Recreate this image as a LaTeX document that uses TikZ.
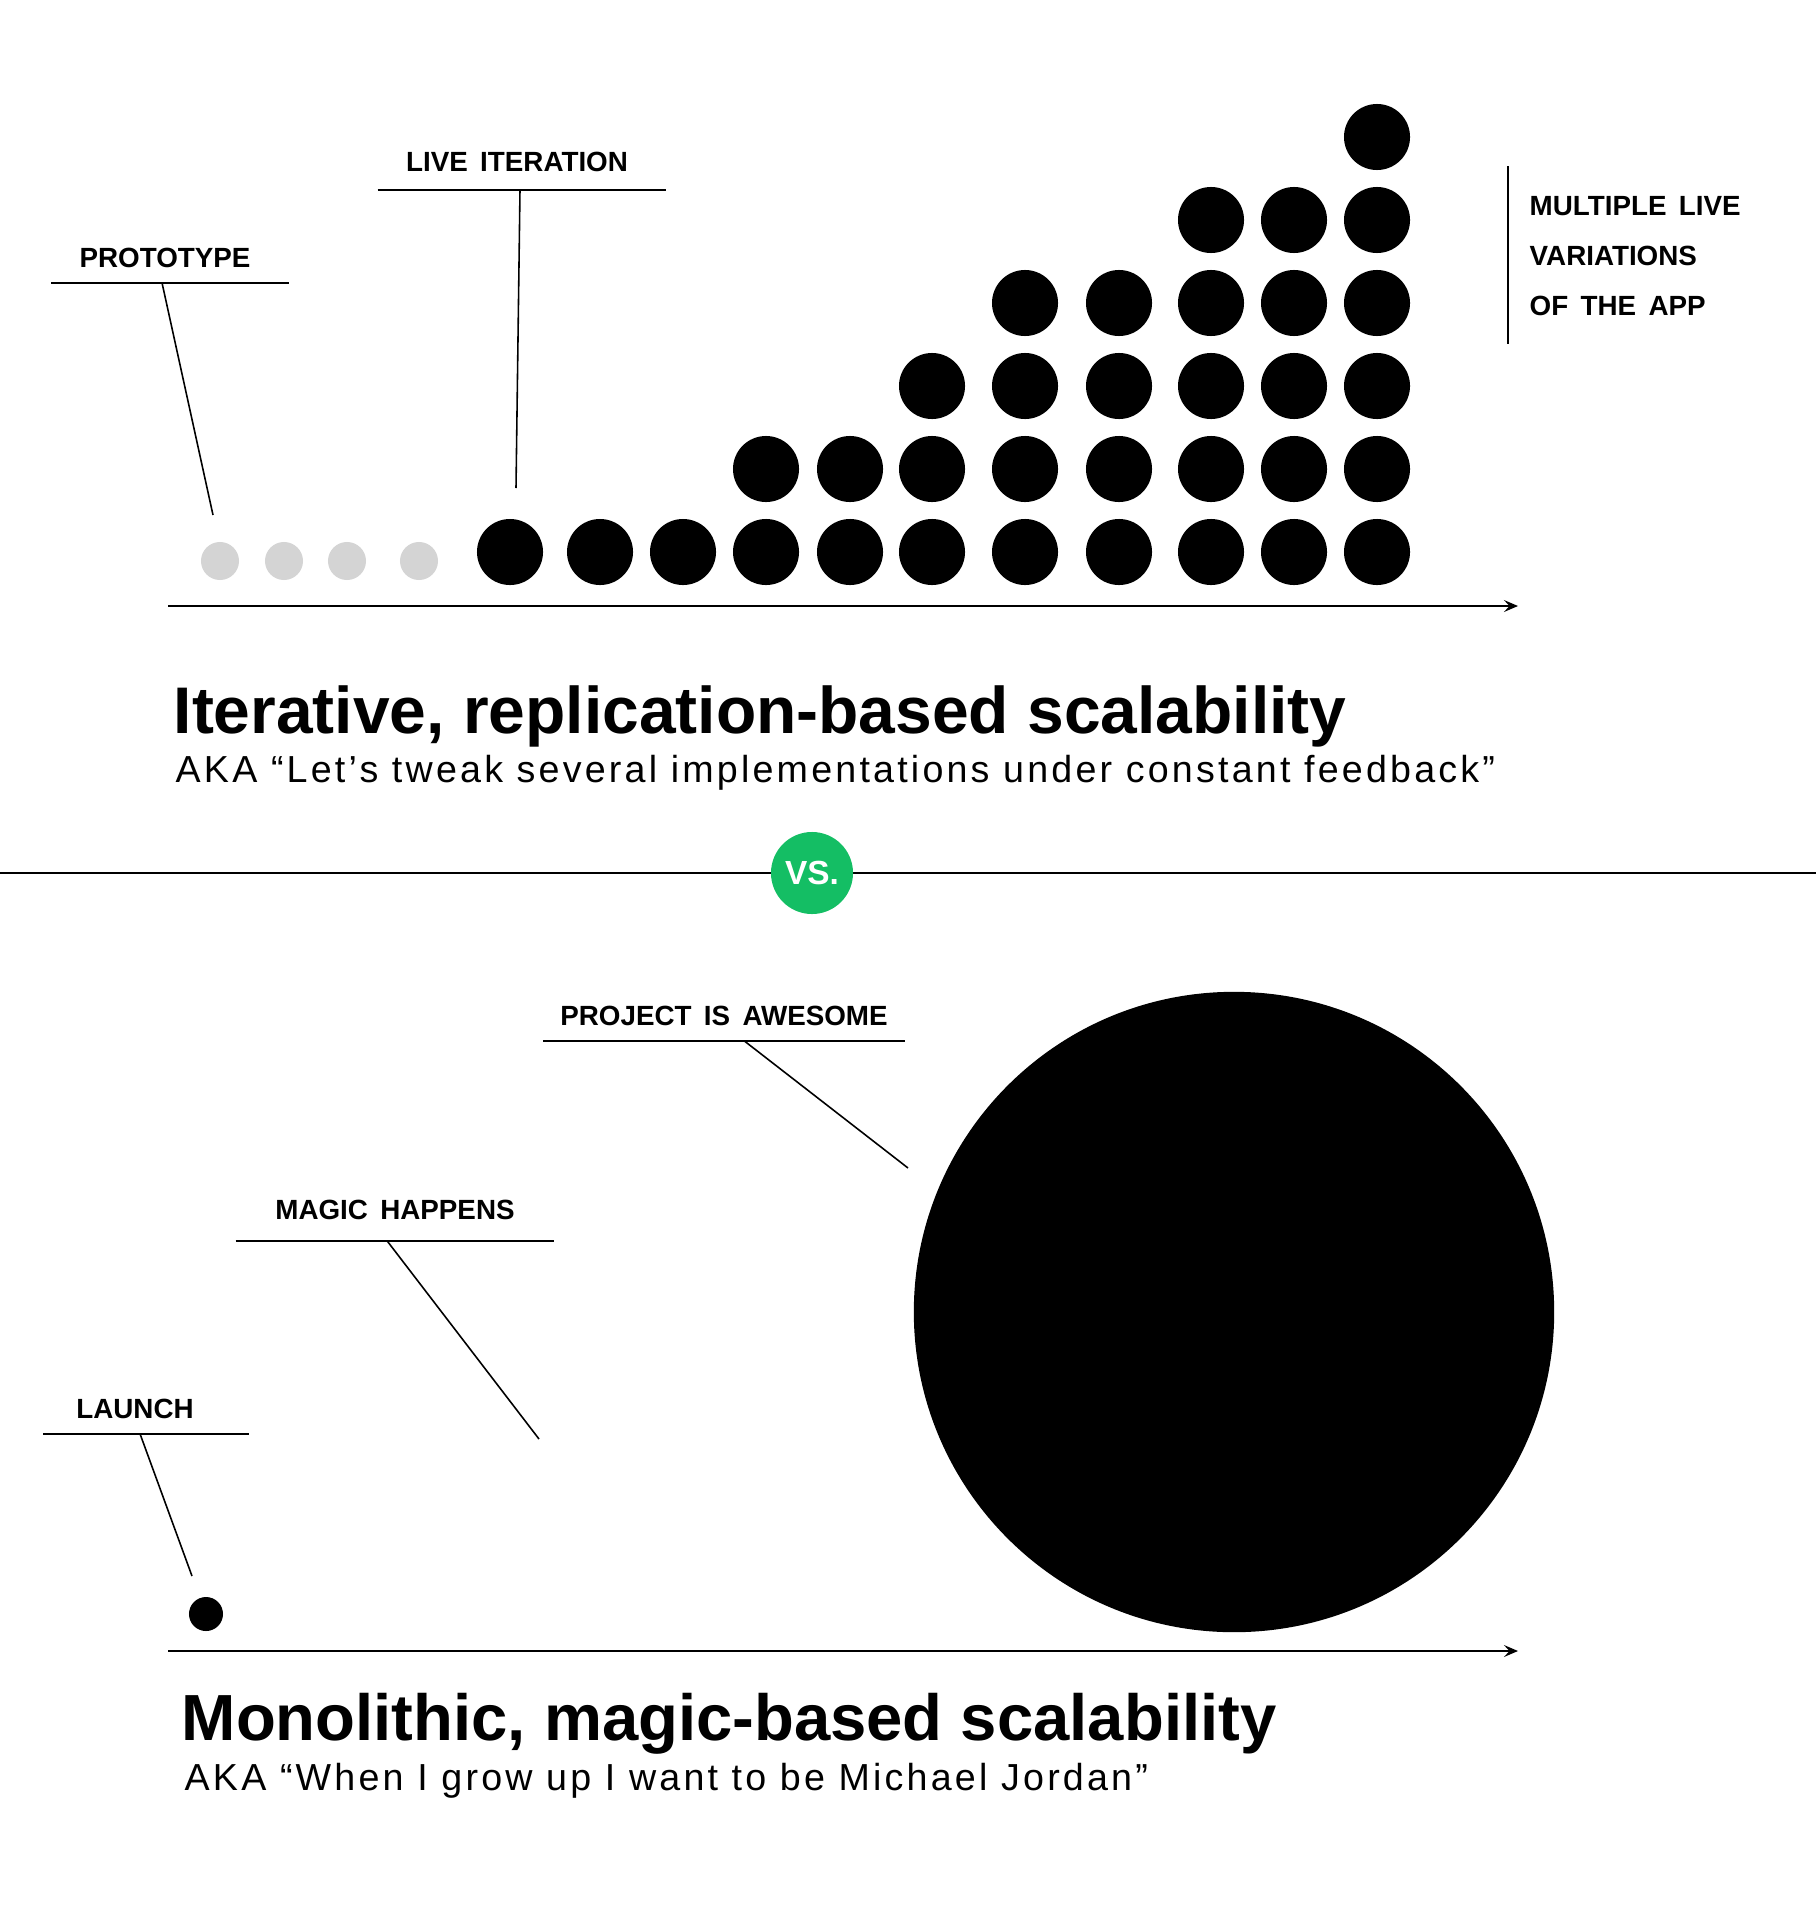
\documentclass[tikz,border=0pt]{standalone}
\usepackage{fontspec}
\setmainfont{Liberation Sans}
\newfontfamily\tagfont{Liberation Sans}[WordSpace=1.6]
\newfontfamily\akafont{Liberation Sans}[LetterSpace=8.5]
\usepackage{tikz}
\usetikzlibrary{arrows.meta}
\definecolor{vsgreen}{RGB}{20, 190, 100}
\definecolor{dotgrey}{RGB}{212, 212, 212}

\begin{document}
\begin{tikzpicture}[x=0.01cm, y=-0.01cm,
  dot/.style={circle, fill=black, inner sep=0pt, minimum size=0.66cm},
  ghost/.style={circle, fill=dotgrey, inner sep=0pt, minimum size=0.38cm},
  tag/.style={font=\tagfont\bfseries\fontsize{7.9}{14.2}\selectfont, text depth=0pt, inner xsep=0pt, inner ysep=0.15cm, minimum width=#1},
  rule/.style={line width=0.45pt},
  axis/.style={line width=0.6pt, -{Stealth[length=4pt, width=3.4pt, inset=1.6pt]}},
  headline/.style={font=\bfseries\fontsize{#1}{22}\selectfont, anchor=base west, inner sep=0pt},
  aka/.style={font=\akafont\fontsize{10.7}{13}\selectfont, anchor=base west, inner sep=0pt}
]
  \useasboundingbox (0,0) rectangle (1816,1909);

  % iterative growth
  \node[ghost] (g1) at (220,561) {};
  \node[ghost] (g2) at (284,561) {};
  \node[ghost] (g3) at (347,561) {};
  \node[ghost] (g4) at (419,561) {};
  \foreach \x/\n [count=\c] in {510/1, 600/1, 683/1, 766/2, 850/2, 932/3, 1025/4, 1119/4, 1211/5, 1294/5, 1377/6}
    \foreach \r in {1,...,\n}
      \node[dot] (d\c-\r) at (\x,{552-83*(\r-1)}) {};

  \node[tag=2.36cm, anchor=base] (proto) at (170,267) {PROTOTYPE\kern0.1cm};
  \coordinate (proto-tip) at (213,515);
  \draw[rule] (proto.south west) -- (proto.south east);
  \draw[rule] ([xshift=-0.08cm]proto.south) -- (proto-tip);

  \node[tag=2.87cm, anchor=base, inner ysep=0.18cm] (live) at (522,171) {LIVE ITERATION\kern0.1cm};
  \coordinate (live-tip) at (516,488);
  \draw[rule] (live.south west) -- (live.south east);
  \draw[rule] ([xshift=-0.02cm]live.south) -- (live-tip);

  \node[tag=0cm, inner ysep=0pt, align=left, anchor=north west] (multi) at (1529,196) {MULTIPLE LIVE\\VARIATIONS\\OF THE APP};
  \coordinate (bar-top) at (1508,166);
  \coordinate (bar-bot) at (1508,344);
  \draw[rule] (bar-top) -- (bar-bot);

  \coordinate (ax1-start) at (168,606);
  \coordinate (ax1-end) at (1518,606);
  \draw[axis] (ax1-start) -- (ax1-end);

  \node[headline=18.75] (title1) at (173,733) {Iterative, replication-based scalability};
  \node[aka] (sub1) at (175,782) {AKA “Let’s tweak several implementations under constant feedback”};

  % divider
  \coordinate (sep-l) at (0,873);
  \coordinate (sep-r) at (1816,873);
  \draw[line width=0.6pt] (sep-l) -- (sep-r);
  \node[circle, fill=vsgreen, inner sep=0pt, minimum size=0.82cm, text=white, font=\bfseries\fontsize{9.5}{11}\selectfont] (vs) at (812,873) {VS.};

  % monolithic growth
  \node[dot, minimum size=0.34cm] (seed) at (206,1614) {};
  \node[dot, minimum size=6.4cm] (giant) at (1234,1312) {};

  \node[tag=2.04cm, anchor=base] (launch) at (146,1418) {LAUNCH\kern0.22cm};
  \coordinate (launch-tip) at (192,1576);
  \draw[rule] (launch.south west) -- (launch.south east);
  \draw[rule] ([xshift=-0.06cm]launch.south) -- (launch-tip);

  \node[tag=3.17cm, anchor=base, inner ysep=0.21cm] (magic) at (395,1219) {MAGIC HAPPENS};
  \coordinate (magic-tip) at (539,1439);
  \draw[rule] (magic.south west) -- (magic.south east);
  \draw[rule] ([xshift=-0.08cm]magic.south) -- (magic-tip);

  \node[tag=3.6cm, anchor=base] (awesome) at (724,1025) {PROJECT IS AWESOME};
  \coordinate (awesome-tip) at (908,1168);
  \draw[rule] (awesome.south west) -- (awesome.south east);
  \draw[rule] ([xshift=0.2cm]awesome.south) -- (awesome-tip);

  \coordinate (ax2-start) at (168,1651);
  \coordinate (ax2-end) at (1518,1651);
  \draw[axis] (ax2-start) -- (ax2-end);

  \node[headline=18.55] (title2) at (181,1740) {Monolithic, magic-based scalability};
  \node[aka] (sub2) at (184,1790) {AKA “When I grow up I want to be Michael Jordan”};
\end{tikzpicture}
\end{document}
